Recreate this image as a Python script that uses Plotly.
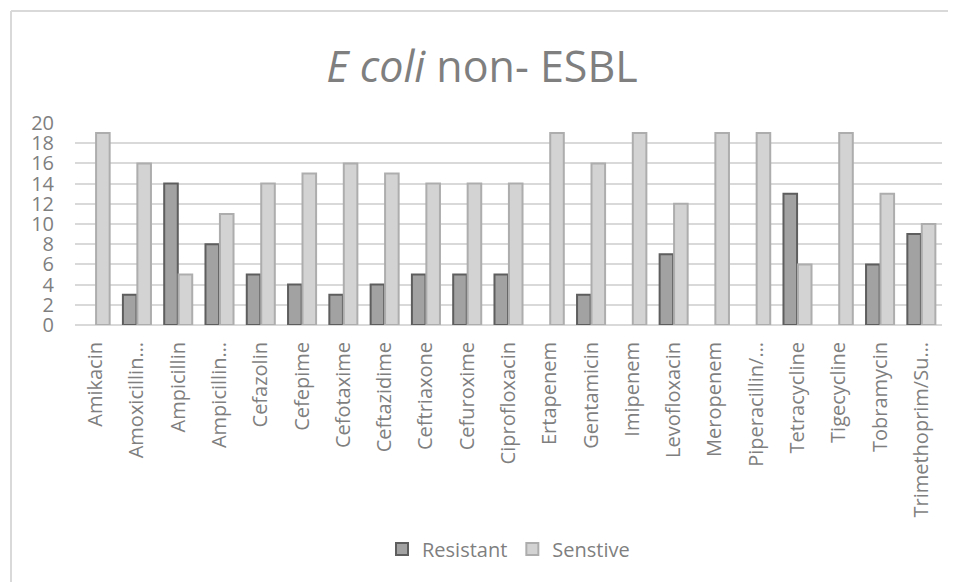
import plotly.graph_objects as go

categories = ["Amikacin", "Amoxicillin…", "Ampicillin", "Ampicillin…", "Cefazolin", "Cefepime",
              "Cefotaxime", "Ceftazidime", "Ceftriaxone", "Cefuroxime", "Ciprofloxacin",
              "Ertapenem", "Gentamicin", "Imipenem", "Levofloxacin", "Meropenem",
              "Piperacillin/…", "Tetracycline", "Tigecycline", "Tobramycin", "Trimethoprim/Su…"]
resistant = [0, 3, 14, 8, 5, 4, 3, 4, 5, 5, 5, 0, 3, 0, 7, 0, 0, 13, 0, 6, 9]
sensitive = [19, 16, 5, 11, 14, 15, 16, 15, 14, 14, 14, 19, 16, 19, 12, 19, 19, 6, 19, 13, 10]
y_ticks = [0, 2, 4, 6, 8, 10, 12, 14, 16, 18, 20]

FONT = "Open Sans"
TXT = "#7f7f7f"

fig = go.Figure()
fig.add_trace(go.Bar(
    name="Resistant", x=categories, y=[v if v else None for v in resistant],
    marker=dict(color="#a2a2a2", line=dict(color="#5e5e5e", width=2)),
))
fig.add_trace(go.Bar(
    name="Senstive", x=categories, y=[v if v else None for v in sensitive],
    marker=dict(color="#d3d3d3", line=dict(color="#adadad", width=2)),
))

# page body has an 8px default margin, so the figure is drawn 8px smaller/shifted
OFF = 8
W, H = 956 - OFF, 582 - OFF
L, R, T, B = 75 - OFF, 14, 123 - OFF, 257
pw, ph = W - L - R, H - T - B

def px(x):
    return (x - OFF - L) / pw

def py(y):
    return (H - B - (y - OFF)) / ph

fig.update_layout(
    width=W, height=H,
    margin=dict(l=L, r=R, t=T, b=B),
    paper_bgcolor="white", plot_bgcolor="white",
    font=dict(family=FONT, color=TXT, size=20),
    title=dict(text="<i>E coli</i> non- ESBL", x=0.5, xanchor="center",
               y=1 - (67 - OFF) / H, yanchor="middle", yref="container",
               font=dict(family=FONT, size=43, color=TXT)),
    bargap=0.3, bargroupgap=0.06,
    showlegend=True,
    legend=dict(orientation="h", x=0.5, xanchor="center", y=py(549), yanchor="middle",
                font=dict(family=FONT, size=20, color=TXT), itemwidth=30,
                traceorder="normal"),
    xaxis=dict(tickangle=-90, showgrid=False, showline=False, ticks="",
               ticklabelstandoff=12, tickfont=dict(family=FONT, size=20, color=TXT),
               automargin=False),
    yaxis=dict(range=[0, 20], tickvals=y_ticks, showgrid=True, gridcolor="#d9d9d9",
               gridwidth=2, zeroline=True, zerolinecolor="#d9d9d9", zerolinewidth=2,
               showline=False, ticks="", ticklabelstandoff=20,
               tickfont=dict(family=FONT, size=20, color=TXT), automargin=False),
    shapes=[
        dict(type="line", xref="paper", yref="paper", x0=px(11), x1=px(960),
             y0=py(11), y1=py(11), line=dict(color="#d9d9d9", width=2)),
        dict(type="line", xref="paper", yref="paper", x0=px(11), x1=px(11),
             y0=py(11), y1=py(590), line=dict(color="#d9d9d9", width=2)),
    ],
)

fig.write_html("out.html")
